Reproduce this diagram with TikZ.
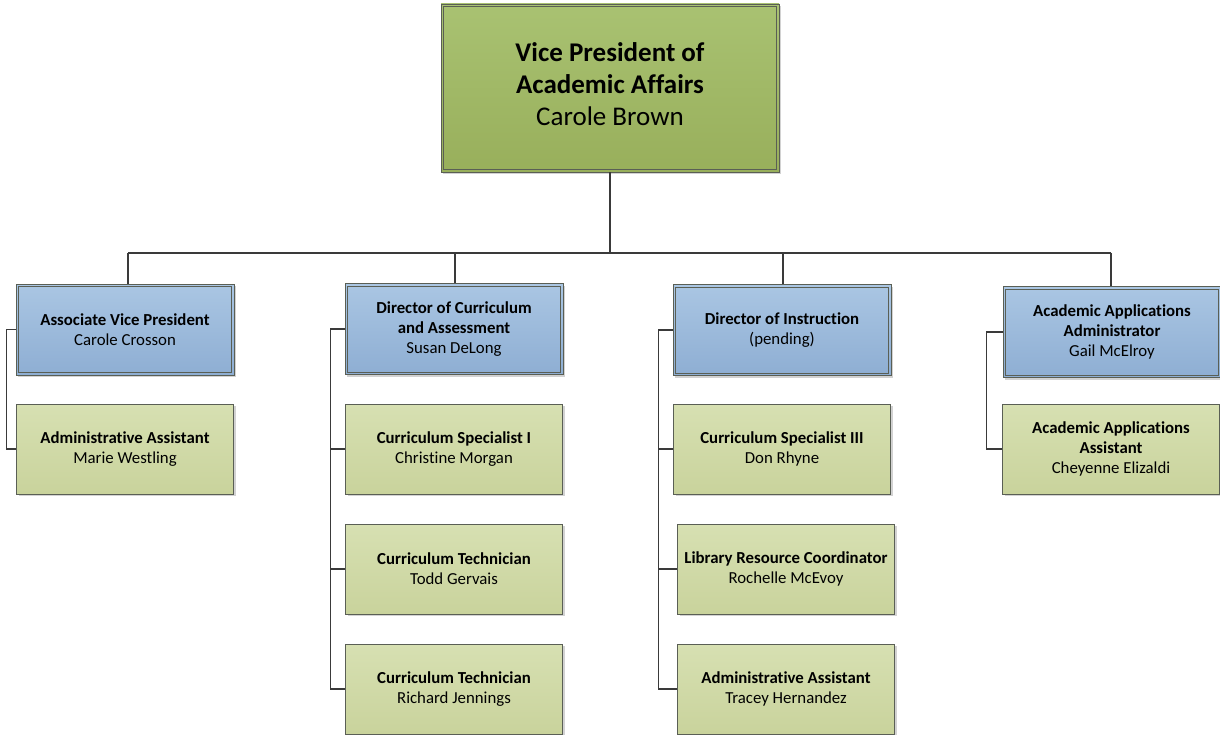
\documentclass[tikz,border=0pt]{standalone}
\usepackage{fontspec}
\setmainfont[Ligatures={NoCommon}]{Carlito}
\usetikzlibrary{shadows}
\definecolor{boxline}{HTML}{5A5F55}
\definecolor{conn}{HTML}{3A3A3A}
\definecolor{gtop}{HTML}{A9C272}
\definecolor{gbot}{HTML}{98AF5B}
\definecolor{btop}{HTML}{AAC6E3}
\definecolor{bbot}{HTML}{8EAED3}
\definecolor{ltop}{HTML}{D7E0B2}
\definecolor{lbot}{HTML}{C9D39C}
\tikzset{
  boxbase/.style={draw=boxline, line width=0.9pt, align=center, inner sep=0pt,
    drop shadow={shadow xshift=2pt, shadow yshift=-2pt, opacity=0.35, fill=gray}},
  topbox/.style={boxbase, top color=gtop, bottom color=gbot,
    minimum width=338pt, minimum height=168pt},
  headbox/.style={boxbase, top color=btop, bottom color=bbot,
    minimum width=218pt, minimum height=91pt, font=\fontsize{16.8}{20}\selectfont},
  staffbox/.style={boxbase, top color=ltop, bottom color=lbot,
    minimum width=217pt, minimum height=90pt, font=\fontsize{16.8}{20}\selectfont},
  toptext/.style={align=center, font=\fontsize{27}{32}\selectfont, inner sep=0pt},
  inner/.style={draw=boxline, line width=0.8pt},
  link/.style={draw=conn, line width=1.3pt}
}
\newcommand{\dbl}[1]{\draw[inner] ([shift={(3pt,-3pt)}]#1.north west) rectangle ([shift={(-3pt,3pt)}]#1.south east);}
\begin{document}
\begin{tikzpicture}[x=1pt,y=-1pt]
\useasboundingbox (0,0) rectangle (1220,735);
\fill[white] (0,0) rectangle (1220,735);

\coordinate (j0) at (610,253);
\coordinate (j1) at (128,253);
\coordinate (j2) at (455,253);
\coordinate (j3) at (783,253);
\coordinate (j4) at (1111,253);

\node[topbox] (vp) at (610,88) {};
\node[toptext] (vpt) at (610,84) {\textbf{Vice President of}\\\textbf{Academic Affairs}\\Carole Brown};
\dbl{vp}

\node[headbox] (b1) at (125,329.5) {\textbf{Associate Vice President}\\Carole Crosson};
\node[headbox] (b2) at (454,329) {\textbf{Director of Curriculum}\\\textbf{and Assessment}\\Susan DeLong};
\node[headbox] (b3) at (782,330) {\textbf{Director of Instruction}\\(pending)};
\node[headbox] (b4) at (1112,332) {\textbf{Academic Applications}\\\textbf{Administrator}\\Gail McElroy};
\dbl{b1}\dbl{b2}\dbl{b3}\dbl{b4}

\node[staffbox] (c11) at (125,449) {\textbf{Administrative Assistant}\\Marie Westling};
\node[staffbox] (c21) at (454,449) {\textbf{Curriculum Specialist I}\\Christine Morgan};
\node[staffbox] (c22) at (454,569) {\textbf{Curriculum Technician}\\Todd Gervais};
\node[staffbox] (c23) at (454,689) {\textbf{Curriculum Technician}\\Richard Jennings};
\node[staffbox] (c31) at (782,449) {\textbf{Curriculum Specialist III}\\Don Rhyne};
\node[staffbox] (c32) at (786,569) {\textbf{Library Resource Coordinator}\\Rochelle McEvoy};
\node[staffbox] (c33) at (786,689) {\textbf{Administrative Assistant}\\Tracey Hernandez};
\node[staffbox] (c41) at (1111,449) {\textbf{Academic Applications}\\\textbf{Assistant}\\Cheyenne Elizaldi};

\draw[link] (vp.south -| j0) -- (j0);
\draw[link] (j1) -- (j4);
\draw[link] (j1) -- (j1 |- b1.north);
\draw[link] (j2) -- (j2 |- b2.north);
\draw[link] (j3) -- (j3 |- b3.north);
\draw[link] (j4) -- (j4 |- b4.north);

\draw[link] (b1.west) -- ++(-9,0) |- (c11.west);
\draw[link] (b2.west) -- ++(-14,0) |- (c21.west);
\draw[link] (b2.west) -- ++(-14,0) |- (c22.west);
\draw[link] (b2.west) -- ++(-14,0) |- (c23.west);
\draw[link] (b3.west) -- ++(-14,0) |- (c31.west);
\draw[link] ([xshift=-14pt]b3.west) |- (c32.west);
\draw[link] ([xshift=-14pt]b3.west) |- (c33.west);
\draw[link] (b4.west) -- ++(-16,0) |- (c41.west);
\end{tikzpicture}
\end{document}
